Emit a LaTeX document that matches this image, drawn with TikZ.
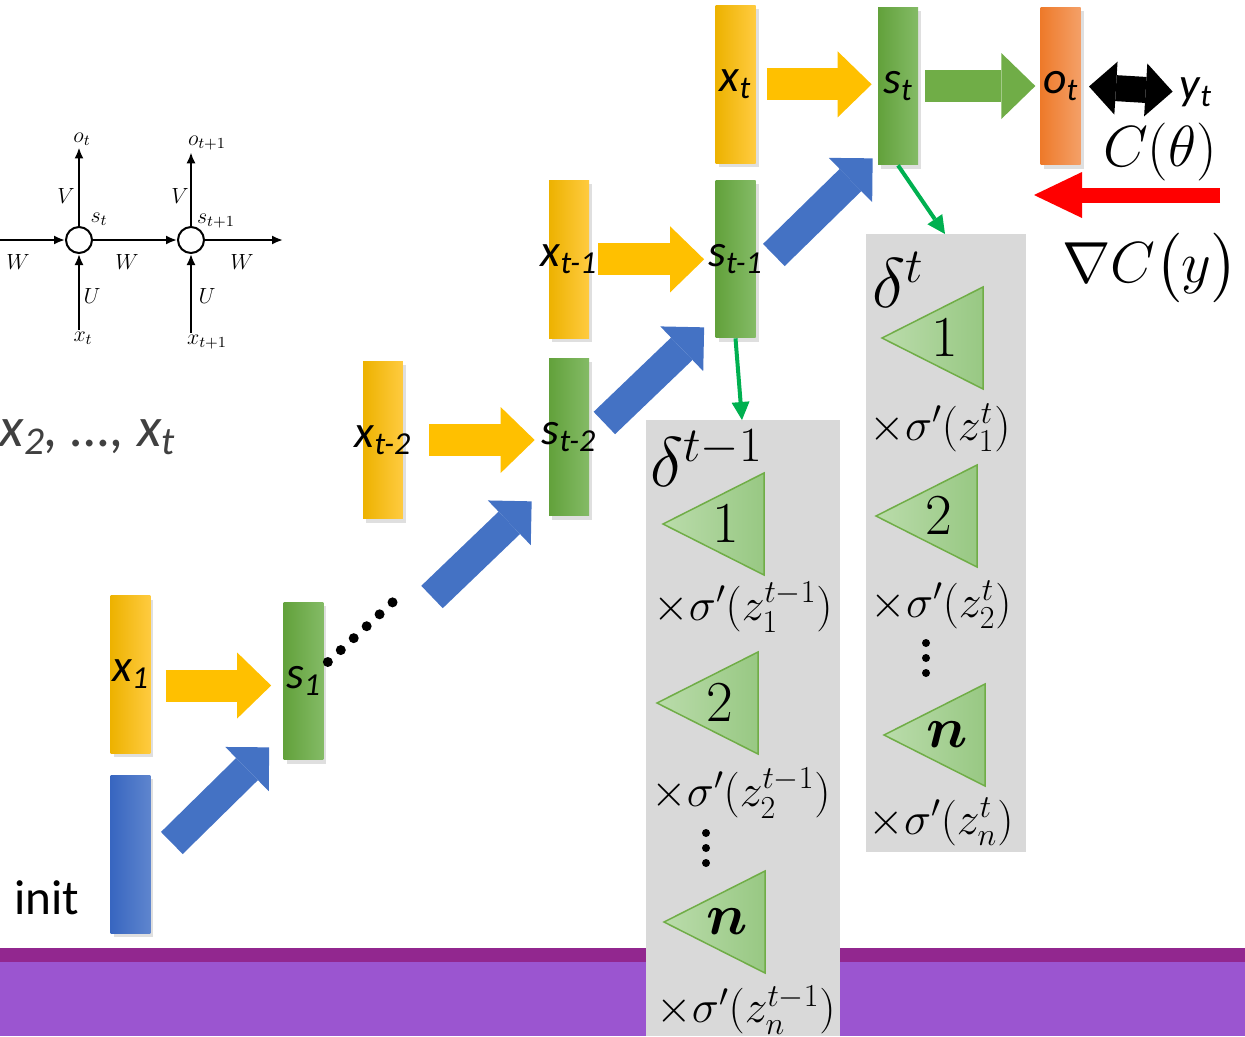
\documentclass[tikz,border=0pt]{standalone}
\usepackage{fix-cm}
\usepackage{amsmath,amssymb}
\usepackage{fontspec}
\newfontfamily\calibri{Carlito}
\usepackage{tikz}
\usetikzlibrary{positioning,calc,arrows.meta,shadows}

\definecolor{yelD}{HTML}{EDB200}
\definecolor{yelM}{HTML}{FFC000}
\definecolor{yelL}{HTML}{FFCB40}
\definecolor{grnD}{HTML}{62A13B}
\definecolor{grnM}{HTML}{70AD47}
\definecolor{grnL}{HTML}{84BB66}
\definecolor{bluD}{HTML}{3866C0}
\definecolor{bluM}{HTML}{4472C4}
\definecolor{bluL}{HTML}{5E85CE}
\definecolor{orgD}{HTML}{EE7A2A}
\definecolor{orgL}{HTML}{F4A068}
\definecolor{triL}{HTML}{BADCAB}
\definecolor{triD}{HTML}{98C883}
\definecolor{triE}{HTML}{70AD47}
\definecolor{boxG}{HTML}{D9D9D9}
\definecolor{lineG}{HTML}{00B050}
\definecolor{purD}{HTML}{92278F}
\definecolor{purL}{HTML}{9B55D0}
\definecolor{txtG}{HTML}{404040}

% label that may stick out of its bar
\newcommand{\bl}[1]{\makebox[0pt]{#1}}
% one green triangle of a delta column: name, tip x, centre y, label
\newcommand{\deltri}[4]{%
  \path[left color=triL, right color=triD, draw=triE, line width=0.03cm]
    (#2,#3) -- (#2+101,#3-51) -- (#2+101,#3+51) -- cycle;
  \node[trinum] (#1) at (#2+63,#3) {#4};}

\begin{document}
\begin{tikzpicture}[x=0.02cm, y=-0.02cm, >={Stealth[round]},
  bar/.style={minimum width=0.8cm, minimum height=3.16cm, inner sep=0pt, font=\calibri\itshape\fontsize{26}{30}\selectfont, drop shadow={opacity=0.25, shadow xshift=0.06cm, shadow yshift=-0.08cm}},
  ybar/.style={bar, left color=yelD, right color=yelL},
  gbar/.style={bar, left color=grnD, right color=grnL},
  bbar/.style={bar, left color=bluD, right color=bluL},
  obar/.style={bar, left color=orgD, right color=orgL},
  blk/.style={line width=0.64cm, -{Triangle[length=0.68cm, width=1.32cm, line width=0pt]}},
  yarr/.style={blk, draw=yelM},
  garr/.style={blk, draw=grnM},
  barr/.style={draw=bluM, line width=0.62cm, -{Triangle[length=0.62cm, width=1.24cm, line width=0pt]}},
  gthin/.style={draw=lineG, line width=0.08cm, -{Triangle[length=0.36cm, width=0.36cm, line width=0pt]}},
  redarr/.style={draw=red, line width=0.3cm, -{Triangle[length=0.96cm, width=0.92cm, line width=0pt]}},
  dblarr/.style={draw=black, line width=0.52cm, {Triangle[length=0.54cm, width=1.06cm, line width=0pt]}-{Triangle[length=0.54cm, width=1.06cm, line width=0pt]}},
  dotline/.style={line width=0.2cm, line cap=round, dash pattern=on 0pt off 0.352cm},
  graybox/.style={fill=boxG, minimum width=3.88cm, inner sep=0pt, anchor=north west},
  sigma/.style={font=\fontsize{26}{30}\selectfont, inner sep=0pt},
  trinum/.style={font=\fontsize{33}{38}\selectfont, inner sep=0pt},
  bigmath/.style={font=\fontsize{33}{38}\selectfont, inner sep=0pt},
  deltalab/.style={font=\fontsize{40}{44}\selectfont, inner sep=0pt, anchor=west},
  lbl/.style={font=\calibri\itshape\fontsize{26}{30}\selectfont, inner sep=0pt},
  mini/.style={font=\fontsize{12.5}{14}\selectfont, inner sep=1pt},
  cell/.style={circle, draw, line width=0.04cm, minimum size=0.52cm, inner sep=0pt},
  wire/.style={line width=0.04cm, -{Latex[length=0.22cm, width=0.18cm]}}]

\useasboundingbox (0,0) rectangle (1245,1036);

% bottom band
\fill[purD] (0,948) rectangle (1245,962);
\fill[purL] (0,962) rectangle (1245,1036);

% small unrolled rnn
\node[cell] (c1) at (79,240) {};
\node[cell] (c2) at (191,240) {};
\coordinate (rin) at (0,240);
\coordinate (rout) at (283,240);
\node[mini] (o1) at (82,139) {$o_t$};
\node[mini] (o2) at (207,143) {$o_{t+1}$};
\node[mini] (xx1) at (83,338) {$x_t$};
\node[mini] (xx2) at (207,342) {$x_{t+1}$};
\node[mini] (sl1) at (99,219) {$s_t$};
\node[mini] (sl2) at (216,221) {$s_{t+1}$};
\draw[wire] (rin) -- (c1);
\draw[wire] (c1) -- (c2);
\draw[wire] (c2) -- (rout);
\draw[wire] (c1) -- (c1 |- o1.south);
\draw[wire] (c2) -- (c2 |- o2.south);
\draw[wire] (c1 |- xx1.north) -- (c1);
\draw[wire] (c2 |- xx2.north) -- (c2);
\node[mini] (w1) at (18,262) {$W$};
\node[mini] (w2) at (127,262) {$W$};
\node[mini] (w3) at (242,262) {$W$};
\node[mini] (v1) at (66,196) {$V$};
\node[mini] (v2) at (180,196) {$V$};
\node[mini] (u1) at (92,296) {$U$};
\node[mini] (u2) at (207,296) {$U$};

\node[text=txtG, anchor=east, font=\calibri\itshape\fontsize{32}{36}\selectfont, inner sep=0pt] (xseq) at (176,437) {x\textsubscript{2}, …, x\textsubscript{t}};
\node[font=\calibri\fontsize{28}{32}\selectfont, inner sep=0pt] (initlab) at (47,898) {init};

% delta columns
\node[graybox, minimum height=12.32cm] (d1) at (646,420) {};
\node[graybox, minimum width=3.2cm, minimum height=12.36cm] (d2) at (866,234) {};

% bars
\node[ybar] (x1) at (130.5,674.5) {\bl{x\textsubscript{1}}};
\node[bbar] (init) at (130.5,854) {};
\node[gbar] (s1) at (303.5,681) {\bl{s\textsubscript{1}}};
\node[ybar] (xtm2) at (383,440) {\bl{x\textsubscript{t-2}}};
\node[gbar] (stm2) at (569,437) {\bl{s\textsubscript{t-2}}};
\node[ybar] (xtm1) [above=0.38cm of stm2] {\bl{x\textsubscript{t-1}}};
\node[gbar] (stm1) at (735.5,259) {\bl{s\textsubscript{t-1}}};
\node[ybar] (xt) [above=0.32cm of stm1] {\bl{x\textsubscript{t}}};
\node[gbar] (st) at (898,86) {\bl{s\textsubscript{t}}};
\node[obar] (ot) [right=2.44cm of st] {\bl{o\textsubscript{t}}};
\node[lbl] (yt) at (1196,92) {y\textsubscript{t}};

% input arrows
\draw[yarr, shorten <=0.3cm, shorten >=0.24cm] ($(x1.east)+(0,11)$) -- ($(x1.east -| s1.west)+(0,11)$);
\draw[yarr, shorten <=0.52cm, shorten >=0.28cm] (xtm2.east) -- (xtm2.east -| stm2.west);
\draw[yarr, shorten <=0.18cm, shorten >=0.22cm] (xtm1.east) -- (xtm1.east -| stm1.west);
\draw[yarr, shorten <=0.22cm, shorten >=0.12cm] (xt.east) -- (xt.east -| st.west);
\draw[garr, shorten <=0.14cm, shorten >=0.1cm] (st.east) -- (ot.west);

% recurrent arrows
\coordinate (dstart) at ($(s1.east)+(4,-19)$);
\coordinate (dend) at (394,601);
\draw[dotline] (dstart) -- (dend);
\coordinate (btail) at (432,597);
\draw[barr] ($(init.east)+(21,-11)$) -- ($(s1.south west)+(-14,-13)$);
\draw[barr] (btail) -- ($(stm2.south west)+(-17,-15)$);
\draw[barr] ($(stm2.east)+(15,-14)$) -- ($(stm1.south west)+(-11,-11)$);
\draw[barr] ($(stm1.east)+(18,-4)$) -- ($(st.south west)+(-5,-7)$);

% back propagation
\draw[gthin] (stm1.south) -- ($(d1.north west)+(96,0)$);
\draw[gthin] (st.south) -- ($(d2.north west)+(79,0)$);
\draw[dblarr, shorten <=0.16cm, shorten >=0.14cm] (ot.east) -- (yt.west);
\node[bigmath] (cost) at (1160,152) {$C(\theta)$};
\coordinate (redS) at (1220,195);
\coordinate (redE) at (1034,195);
\draw[redarr] (redS) -- (redE);
\node[bigmath] (grad) at (1150,268) {$\nabla C\bigl(y\bigr)$};

% delta^{t-1}
\node[deltalab] (dl1) at (650,458) {$\delta^{t-1}$};
\deltri{t11}{663}{524}{$1$}
\node[sigma] (g11) at (743,607) {$\times\sigma'(z_1^{t-1})$};
\deltri{t12}{657}{703}{$2$}
\node[sigma] (g12) at (741,793) {$\times\sigma'(z_2^{t-1})$};
\foreach \k in {0,1,2} \fill (706,833+\k*15) circle (0.08cm);
\deltri{t1n}{664}{922}{$\boldsymbol{n}$}
\node[sigma] (g1n) at (746,1010) {$\times\sigma'(z_n^{t-1})$};

% delta^t
\node[deltalab] (dl2) at (872,280) {$\delta^{t}$};
\deltri{t21}{882}{338}{$1$}
\node[sigma] (g21) at (940,428) {$\times\sigma'(z_1^{t})$};
\deltri{t22}{876}{516}{$2$}
\node[sigma] (g22) at (941,605) {$\times\sigma'(z_2^{t})$};
\foreach \k in {0,1,2} \fill (926,643+\k*15) circle (0.08cm);
\deltri{t2n}{884}{735}{$\boldsymbol{n}$}
\node[sigma] (g2n) at (941,822) {$\times\sigma'(z_n^{t})$};
\end{tikzpicture}
\end{document}
